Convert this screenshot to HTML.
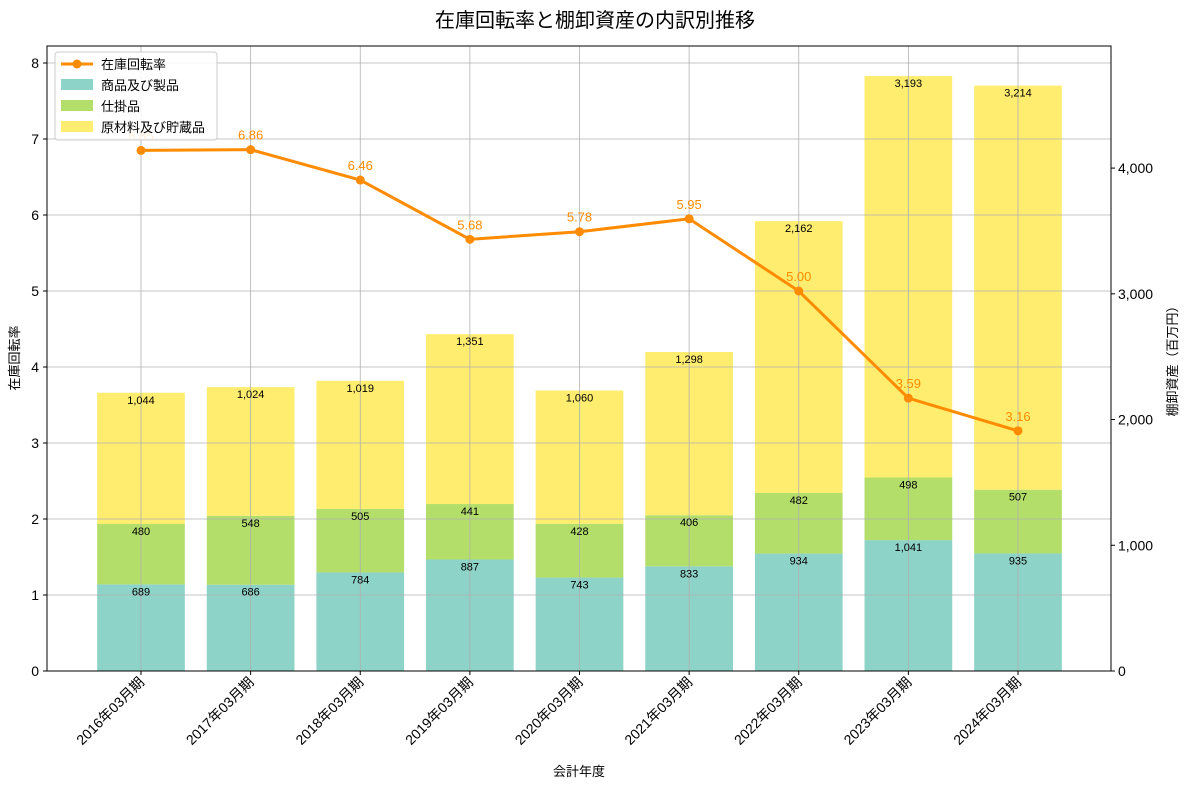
<!DOCTYPE html>
<html><head><meta charset="utf-8">
<style>
body{margin:0;background:#fff;}
svg text{font-family:"Liberation Sans","Noto Sans CJK JP",sans-serif;}
</style></head>
<body>
<svg id="chart" width="1190" height="789" xmlns="http://www.w3.org/2000/svg"></svg>
<script>
const categories=["2016年03月期","2017年03月期","2018年03月期","2019年03月期","2020年03月期","2021年03月期","2022年03月期","2023年03月期","2024年03月期"];
const goods=[689,686,784,887,743,833,934,1041,935];
const wip=[480,548,505,441,428,406,482,498,507];
const raw=[1044,1024,1019,1351,1060,1298,2162,3193,3214];
const turnover=[6.85,6.86,6.46,5.68,5.78,5.95,5.00,3.59,3.16];
const leftTicks=[0,1,2,3,4,5,6,7,8];
const rightTicks=[0,1000,2000,3000,4000];
const rightTickLabels=["0","1,000","2,000","3,000","4,000"];

const svg=document.getElementById('chart');
const NS="http://www.w3.org/2000/svg";
const L=47,R=1111,T=46,B=671;
const xs=i=>141+i*109.625;
const yl=v=>B-v*76;
const yr=v=>B-v*0.12573;
function el(tag,attrs,parent){const e=document.createElementNS(NS,tag);for(const k in attrs)e.setAttribute(k,attrs[k]);(parent||svg).appendChild(e);return e;}
function txt(s,attrs,parent){const e=el('text',attrs,parent);e.textContent=s;return e;}
const fmt=v=>v.toLocaleString('en-US');

const colors=["#8dd3c7","#b3de69","#ffed6f"];
const series=[goods,wip,raw];
const sNames=["goods","wip","raw"];
const bw=0.8*109.625;
categories.forEach((c,i)=>{
  let base=0;
  series.forEach((s,k)=>{
    const top=base+s[i];
    const r=el('rect',{x:xs(i)-bw/2,y:yr(top),width:bw,height:yr(base)-yr(top),fill:colors[k]});
    
    
    base=top;
  });
});
// grid
leftTicks.forEach(t=>{const g=el('line',{x1:L,x2:R,y1:yl(t),y2:yl(t),stroke:"#b0b0b0","stroke-width":0.8});});
categories.forEach((c,i)=>{const g=el('line',{x1:xs(i),x2:xs(i),y1:T,y2:B,stroke:"#b0b0b0","stroke-width":0.8});});
// segment labels
categories.forEach((c,i)=>{
  let base=0;
  series.forEach((s,k)=>{
    base+=s[i];
    const t=txt(fmt(s[i]),{x:xs(i),y:yr(base)+11,"text-anchor":"middle","font-size":11,fill:"#000"});
    
  });
});
// line
const pts=turnover.map((v,i)=>xs(i)+","+yl(v)).join(" ");
const pl=el('polyline',{points:pts,fill:"none",stroke:"#ff8c00","stroke-width":3});

turnover.forEach((v,i)=>{
  const c=el('circle',{cx:xs(i),cy:yl(v),r:4.5,fill:"#ff8c00"});
  
  const t=txt(v.toFixed(2),{x:xs(i),y:yl(v)-10,"text-anchor":"middle","font-size":13,fill:"#ff8c00"});
  
});
// frame
const fr=el('rect',{x:L,y:T,width:R-L,height:B-T,fill:"none",stroke:"#000","stroke-width":1});

// left ticks
leftTicks.forEach(t=>{el('line',{x1:L-4,x2:L,y1:yl(t),y2:yl(t),stroke:"#000"});const e=txt(String(t),{x:L-8,y:yl(t)+5,"text-anchor":"end","font-size":14});});
rightTicks.forEach((t,j)=>{el('line',{x1:R,x2:R+4,y1:yr(t),y2:yr(t),stroke:"#000"});const e=txt(rightTickLabels[j],{x:R+7,y:yr(t)+5,"font-size":14});});
categories.forEach((c,i)=>{el('line',{x1:xs(i),x2:xs(i),y1:B,y2:B+4,stroke:"#000"});const e=txt(c,{x:xs(i)+4,y:B+12,"text-anchor":"end","font-size":14,transform:`rotate(-45 ${xs(i)+4} ${B+12})`});});
// titles
let e=txt("在庫回転率と棚卸資産の内訳別推移",{x:595,y:27,"text-anchor":"middle","font-size":20});
e=txt("会計年度",{x:579,y:776,"text-anchor":"middle","font-size":13});
e=txt("在庫回転率",{x:19,y:358,"text-anchor":"middle","font-size":13,transform:"rotate(-90 19 358)"});
e=txt("棚卸資産（百万円）",{x:1177,y:358,"text-anchor":"middle","font-size":13,transform:"rotate(-90 1177 358)"});
// legend
const lg=el('g',{});
el('rect',{x:55,y:52,width:162,height:88,fill:"#fff","fill-opacity":0.85,stroke:"#ccc",rx:3},lg);
el('line',{x1:61,x2:93,y1:64,y2:64,stroke:"#ff8c00","stroke-width":3},lg);
el('circle',{cx:77,cy:64,r:4.5,fill:"#ff8c00"},lg);
const names=["在庫回転率","商品及び製品","仕掛品","原材料及び貯蔵品"];
names.forEach((n,k)=>{
  if(k>0) el('rect',{x:61,y:58+k*21,width:32,height:11,fill:colors[k-1]},lg);
  const t=txt(n,{x:101,y:69+k*21,"font-size":13},lg);
  
});
</script>
</body></html>
